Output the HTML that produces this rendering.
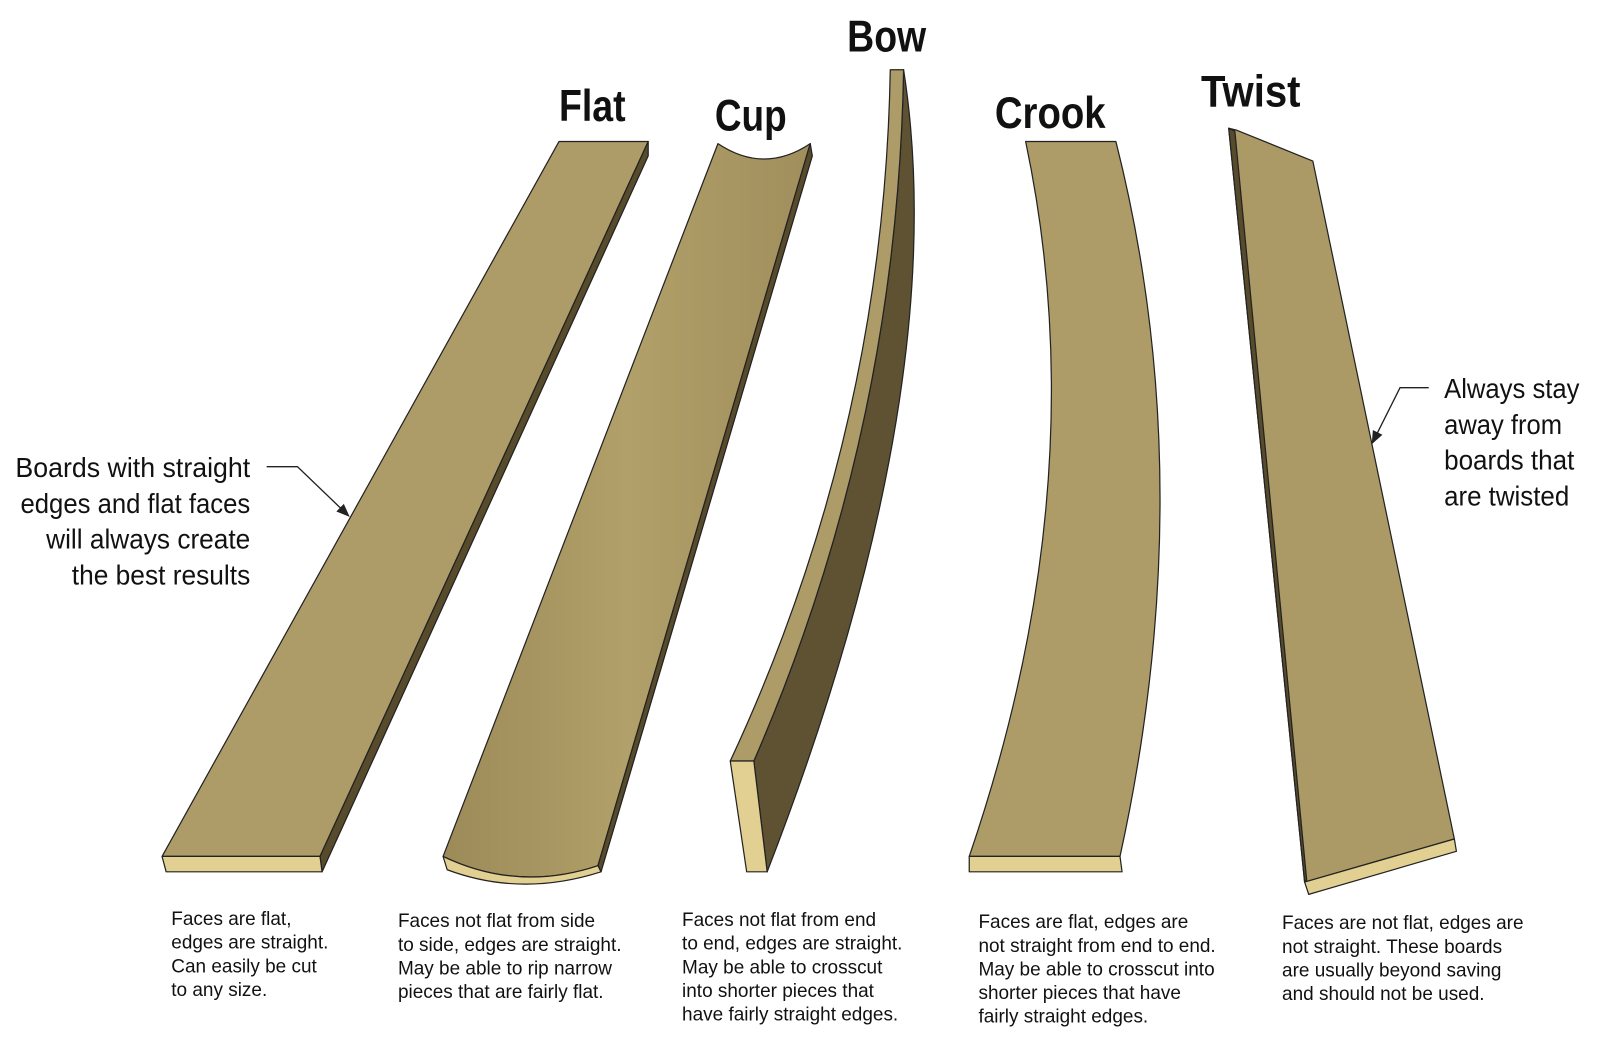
<!DOCTYPE html>
<html><head><meta charset="utf-8"><style>
html,body{margin:0;padding:0;background:#fff;}
body{width:1600px;height:1039px;overflow:hidden;}
svg{display:block}
.t{font-family:"Liberation Sans",sans-serif;font-weight:bold;font-size:43px;fill:#111;}
.c{font-family:"Liberation Sans",sans-serif;font-size:27px;fill:#111;}
.d{font-family:"Liberation Sans",sans-serif;font-size:18.5px;fill:#111;}
</style></head><body>
<svg width="1600" height="1039" viewBox="0 0 1560 1013" xmlns="http://www.w3.org/2000/svg">
<defs>
<linearGradient id="cupg" x1="0" x2="1" y1="0" y2="0">
<stop offset="0" stop-color="#9c8a58"/><stop offset="0.5" stop-color="#b2a06a"/><stop offset="1" stop-color="#a08e5c"/></linearGradient>
<marker id="ar" markerWidth="10" markerHeight="10" refX="9" refY="5" orient="auto"><path d="M0,1 L10,5 L0,9 Z" fill="#222"/></marker>
</defs>
<g stroke="#222" stroke-width="1.2" stroke-linejoin="round">
<!-- Flat -->
<polygon points="545,138 632,138 312,835 158,835" fill="#ad9c68"/>
<polygon points="632,138 632,152 314,850 312,835" fill="#574b2c"/>
<polygon points="158,835 312,835 314,850 162,850" fill="#e2cf92"/>
<!-- Cup -->
<path d="M700,140 Q745,170 790,140 L583,844 Q505,870 432,835 Z" fill="url(#cupg)"/>
<polygon points="790,140 792,152 586,850 583,844" fill="#574b2c"/>
<path d="M432,835 Q505,870 583,844 L586,850 Q508,875 436,848 Z" fill="#e2cf92"/>
<!-- Bow -->
<path d="M735,742 Q875,420 881,68 Q930,380 748,850 Z" fill="#5e5233"/>
<path d="M712,742 Q862,420 868,68 L881,68 Q875,420 735,742 Z" fill="#ad9c68"/>
<polygon points="712,742 735,742 748,850 728,850" fill="#e2cf92"/>
<!-- Crook -->
<path d="M1000,138 L1088,138 Q1172,470 1092,835 L945,835 Q1070,470 1000,138 Z" fill="#ad9c68"/>
<polygon points="945,835 1092,835 1094,850 945,850" fill="#e2cf92"/>
<!-- Twist -->
<polygon points="1198,125 1206,127 1280,157 1418,818 1272,860" fill="#ab9a66"/>
<polygon points="1198,125 1204,128 1274,858 1272,860" fill="#574b2c"/>
<polygon points="1272,860 1418,818 1420,830 1276,872" fill="#e2cf92"/>
</g>
<!-- callout lines -->
<path d="M260,455 L290,455 L340,503" fill="none" stroke="#222" stroke-width="1.3" marker-end="url(#ar)"/>
<path d="M1393,378 L1365,378 L1338,432" fill="none" stroke="#222" stroke-width="1.3" marker-end="url(#ar)"/>
<!-- titles -->
<text class="t" x="545" y="118" textLength="65" lengthAdjust="spacingAndGlyphs">Flat</text>
<text class="t" x="697" y="127" textLength="70" lengthAdjust="spacingAndGlyphs">Cup</text>
<text class="t" x="826" y="50" textLength="77" lengthAdjust="spacingAndGlyphs">Bow</text>
<text class="t" x="970" y="125" textLength="108" lengthAdjust="spacingAndGlyphs">Crook</text>
<text class="t" x="1171" y="104" textLength="97" lengthAdjust="spacingAndGlyphs">Twist</text>
<!-- callouts -->
<text class="c" x="15" y="465" textLength="229" lengthAdjust="spacingAndGlyphs">Boards with straight</text>
<text class="c" x="20" y="500" textLength="224" lengthAdjust="spacingAndGlyphs">edges and flat faces</text>
<text class="c" x="45" y="535" textLength="199" lengthAdjust="spacingAndGlyphs">will always create</text>
<text class="c" x="70" y="570" textLength="174" lengthAdjust="spacingAndGlyphs">the best results</text>
<text class="c" x="1408" y="388" textLength="132" lengthAdjust="spacingAndGlyphs">Always stay</text>
<text class="c" x="1408" y="423" textLength="115" lengthAdjust="spacingAndGlyphs">away from</text>
<text class="c" x="1408" y="458" textLength="127" lengthAdjust="spacingAndGlyphs">boards that</text>
<text class="c" x="1408" y="493" textLength="122" lengthAdjust="spacingAndGlyphs">are twisted</text>
<!-- descriptions -->
<text class="d" x="167" y="902">Faces are flat,</text>
<text class="d" x="167" y="925">edges are straight.</text>
<text class="d" x="167" y="948">Can easily be cut</text>
<text class="d" x="167" y="971">to any size.</text>
<text class="d" x="388" y="904">Faces not flat from side</text>
<text class="d" x="388" y="927">to side, edges are straight.</text>
<text class="d" x="388" y="950">May be able to rip narrow</text>
<text class="d" x="388" y="973">pieces that are fairly flat.</text>
<text class="d" x="665" y="903">Faces not flat from end</text>
<text class="d" x="665" y="926">to end, edges are straight.</text>
<text class="d" x="665" y="949">May be able to crosscut</text>
<text class="d" x="665" y="972">into shorter pieces that</text>
<text class="d" x="665" y="995">have fairly straight edges.</text>
<text class="d" x="954" y="905">Faces are flat, edges are</text>
<text class="d" x="954" y="928">not straight from end to end.</text>
<text class="d" x="954" y="951">May be able to crosscut into</text>
<text class="d" x="954" y="974">shorter pieces that have</text>
<text class="d" x="954" y="997">fairly straight edges.</text>
<text class="d" x="1250" y="906">Faces are not flat, edges are</text>
<text class="d" x="1250" y="929">not straight. These boards</text>
<text class="d" x="1250" y="952">are usually beyond saving</text>
<text class="d" x="1250" y="975">and should not be used.</text>
</svg>
</body></html>
